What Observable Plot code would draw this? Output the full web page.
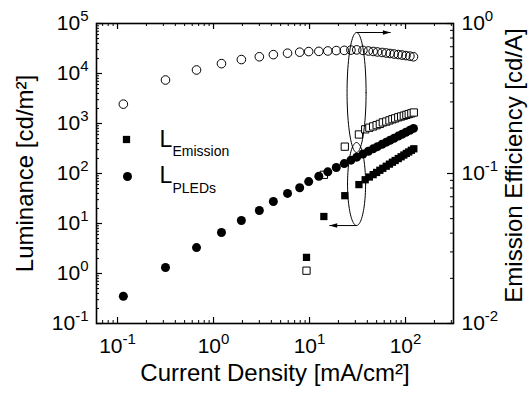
<!DOCTYPE html>
<html><head><meta charset="utf-8">
<script src="https://cdn.jsdelivr.net/npm/d3@7"></script>
<script src="https://cdn.jsdelivr.net/npm/@observablehq/plot@0.6"></script>
<style>
body{margin:0;background:#fff}
#wrap{position:relative;width:531px;height:394px}
#wrap svg{position:absolute;left:0;top:0}
</style></head><body><div id="wrap"></div>
<script>
// ---- data ----
const J_pled = [0.115, 0.316, 0.665, 1.21, 1.95, 3.0, 4.2, 5.9, 7.9, 9.8, 12.5, 15.5, 19, 23, 27, 31, 36, 41, 46, 51, 57, 63, 69, 76, 84, 92, 101, 111, 121];
const L_pled = [0.35, 1.32, 3.3, 6.6, 11.5, 18.2, 27.5, 40, 52, 69, 88, 108, 132, 158, 185, 212, 245, 278, 311, 344, 384, 423, 462, 508, 560, 611, 669, 733, 797];
const E_pled = [0.29, 0.42, 0.49, 0.54, 0.575, 0.60, 0.62, 0.634, 0.644, 0.65, 0.652, 0.656, 0.66, 0.662, 0.665, 0.667, 0.662, 0.656, 0.651, 0.646, 0.641, 0.636, 0.631, 0.626, 0.621, 0.616, 0.611, 0.606, 0.60];
const J_em = [9.3, 14.1, 23.3, 32.7, 38, 42, 46, 50, 54, 58, 63, 68, 73, 78, 84, 90, 96, 102, 108, 115, 122];
const L_em = [2.1, 13.8, 36, 60, 75, 85, 95, 105, 116, 127, 140, 154, 168, 182, 199, 216, 234, 252, 270, 291, 312];
const E_em = [0.0225, 0.098, 0.151, 0.182, 0.197, 0.202, 0.206, 0.210, 0.214, 0.219, 0.222, 0.226, 0.230, 0.233, 0.237, 0.240, 0.243, 0.246, 0.249, 0.252, 0.255];

const xMajor = [0.1, 1, 10, 100];
const yLeftMajor = [0.1, 1, 10, 100, 1000, 10000, 100000];
const yRightMajor = [0.01, 0.1, 1];
const xDomain = [0.0604, 316];
const yLeftDomain = [0.1, 100000];
const yRightDomain = [0.01, 1];

const xTitle = "Current Density [mA/cm²]";
const yLeftTitle = "Luminance [cd/m²]";
const yRightTitle = "Emission Efficiency [cd/A]";

// annotation ellipses (log10 units, left-axis space) and arrows
const ellipseSpecs = [
  {id: "eff", cx: 1.49, cy: 3.62, rx: 0.099, ry: 1.2},
  {id: "lum", cx: 1.49, cy: 1.79, rx: 0.094, ry: 0.83}
];
const arrowSpecs = [
  {x1: 10 ** 1.49, y1: 10 ** 4.82, x2: 70, y2: 10 ** 4.82, dir: "right"},
  {x1: 10 ** 1.49, y1: 9.1, x2: 16.1, y2: 9.1, dir: "left"}
];

// ---- tables ----
const pled = J_pled.map((J, i) => ({J, L: L_pled[i], E: E_pled[i]}));
const em = J_em.map((J, i) => ({J, L: L_em[i], E: E_em[i]}));
const ellipsePts = ellipseSpecs.flatMap(e => d3.range(0, 361, 4).map(a => ({
  id: e.id,
  x: 10 ** (e.cx + e.rx * Math.cos(a * Math.PI / 180)),
  y: 10 ** (e.cy + e.ry * Math.sin(a * Math.PI / 180))
})));

const minorOf = (dom) => d3.scaleLog().domain(dom).ticks().filter(d => Math.abs(Math.log10(d) - Math.round(Math.log10(d))) > 1e-6);
const xMinor = minorOf(xDomain);
const yLeftMinor = minorOf(yLeftDomain);
const yRightMinor = minorOf(yRightDomain);

const W = 531, H = 394, ML = 96, MR = 78, MT = 23, MB = 71;
const FW = W - ML - MR, FH = H - MT - MB;
const font = "'Liberation Sans', Arial, Helvetica, sans-serif";
const fmt = d => "10^" + Math.round(Math.log10(d));
const MAJ = 6, MIN = 3;

const triRight = {draw(ctx, size) { const r = Math.sqrt(size / Math.PI); ctx.moveTo(0, 0); ctx.lineTo(-2.6 * r, -0.75 * r); ctx.lineTo(-2.6 * r, 0.75 * r); ctx.closePath(); }};
const triLeft = {draw(ctx, size) { const r = Math.sqrt(size / Math.PI); ctx.moveTo(0, 0); ctx.lineTo(2.6 * r, -0.75 * r); ctx.lineTo(2.6 * r, 0.75 * r); ctx.closePath(); }};

const common = {
  width: W, height: H, marginLeft: ML, marginRight: MR, marginTop: MT, marginBottom: MB,
  style: {fontFamily: font, fontSize: "21px", background: "transparent", color: "black", overflow: "visible"}
};

// right-axis plot (drawn underneath)
const right = Plot.plot({
  ...common,
  x: {type: "log", domain: xDomain, axis: null},
  y: {type: "log", domain: yRightDomain, axis: null},
  marks: [
    Plot.ruleY(yRightMajor, {y: d => d, insetLeft: FW - MAJ, stroke: "black", strokeWidth: 1.2}),
    Plot.ruleY(yRightMinor, {y: d => d, insetLeft: FW - MIN, stroke: "black", strokeWidth: 1}),
    Plot.axisY({anchor: "right", ticks: yRightMajor, tickSize: 0, tickPadding: 8, tickFormat: fmt, label: null}),
    Plot.text([yRightTitle], {frameAnchor: "right", textAnchor: "middle", lineAnchor: "middle", rotate: -90, dx: 61, dy: -8, fontSize: 24}),
    Plot.dot(em, {x: "J", y: "E", symbol: "square", r: 4.1, fill: "white", stroke: "black", strokeWidth: 1}),
    Plot.dot(pled, {x: "J", y: "E", r: 4.3, fill: "none", stroke: "black", strokeWidth: 1})
  ]
});

// left-axis plot (on top)
const left = Plot.plot({
  ...common,
  x: {type: "log", domain: xDomain, axis: null},
  y: {type: "log", domain: yLeftDomain, axis: null},
  marks: [
    Plot.frame({stroke: "black", strokeWidth: 1.6}),
    Plot.ruleX(xMajor, {x: d => d, insetTop: FH - MAJ, stroke: "black", strokeWidth: 1.2}),
    Plot.ruleX(xMinor, {x: d => d, insetTop: FH - MIN, stroke: "black", strokeWidth: 1}),
    Plot.ruleX(xMajor, {x: d => d, insetBottom: FH - MAJ, stroke: "black", strokeWidth: 1.2}),
    Plot.ruleX(xMinor, {x: d => d, insetBottom: FH - MIN, stroke: "black", strokeWidth: 1}),
    Plot.ruleY(yLeftMajor, {y: d => d, insetRight: FW - MAJ, stroke: "black", strokeWidth: 1.2}),
    Plot.ruleY(yLeftMinor, {y: d => d, insetRight: FW - MIN, stroke: "black", strokeWidth: 1}),
    Plot.axisX({anchor: "bottom", ticks: xMajor, tickSize: 0, tickPadding: 15, tickFormat: fmt, label: null}),
    Plot.axisY({anchor: "left", ticks: yLeftMajor, tickSize: 0, tickPadding: 8, tickFormat: fmt, label: null}),
    Plot.text([xTitle], {frameAnchor: "bottom", textAnchor: "middle", lineAnchor: "middle", dy: 50, fontSize: 24}),
    Plot.text([yLeftTitle], {frameAnchor: "left", textAnchor: "middle", lineAnchor: "middle", rotate: -90, dx: -71, fontSize: 24}),
    Plot.line(ellipsePts, {x: "x", y: "y", z: "id", stroke: "black", strokeWidth: 1}),
    Plot.link(arrowSpecs, {x1: "x1", y1: "y1", x2: "x2", y2: "y2", stroke: "black", strokeWidth: 1}),
    Plot.dot(arrowSpecs.filter(d => d.dir === "right"), {x: "x2", y: "y2", symbol: triRight, r: 3, fill: "black", stroke: null}),
    Plot.dot(arrowSpecs.filter(d => d.dir === "left"), {x: "x2", y: "y2", symbol: triLeft, r: 3, fill: "black", stroke: null}),
    Plot.dot(em, {x: "J", y: "L", symbol: "square", r: 4.1, fill: "black"}),
    Plot.dot(pled, {x: "J", y: "L", r: 4.5, fill: "black"}),
    // legend
    Plot.dot([0], {frameAnchor: "top-left", dx: 30, dy: 116, symbol: "square", r: 4.1, fill: "black"}),
    Plot.dot([0], {frameAnchor: "top-left", dx: 31, dy: 153, r: 4.5, fill: "black"}),
    Plot.text(["L"], {frameAnchor: "top-left", dx: 63, dy: 116, textAnchor: "start", lineAnchor: "middle", fontSize: 23}),
    Plot.text(["Emission"], {frameAnchor: "top-left", dx: 76, dy: 128, textAnchor: "start", lineAnchor: "middle", fontSize: 14}),
    Plot.text(["L"], {frameAnchor: "top-left", dx: 63, dy: 152, textAnchor: "start", lineAnchor: "middle", fontSize: 23}),
    Plot.text(["PLEDs"], {frameAnchor: "top-left", dx: 76, dy: 165, textAnchor: "start", lineAnchor: "middle", fontSize: 14})
  ]
});

function superscripts(svg) {
  svg.querySelectorAll("text").forEach(t => {
    const m = /^10\^(-?\d+)$/.exec(t.textContent);
    if (!m) return;
    t.textContent = "10";
    const ts = document.createElementNS("http://www.w3.org/2000/svg", "tspan");
    ts.setAttribute("dy", "-9");
    ts.setAttribute("font-size", "15");
    ts.textContent = m[1];
    t.appendChild(ts);
  });
}
superscripts(right);
superscripts(left);
const wrap = document.getElementById("wrap");
wrap.appendChild(right);
wrap.appendChild(left);
</script></body></html>
